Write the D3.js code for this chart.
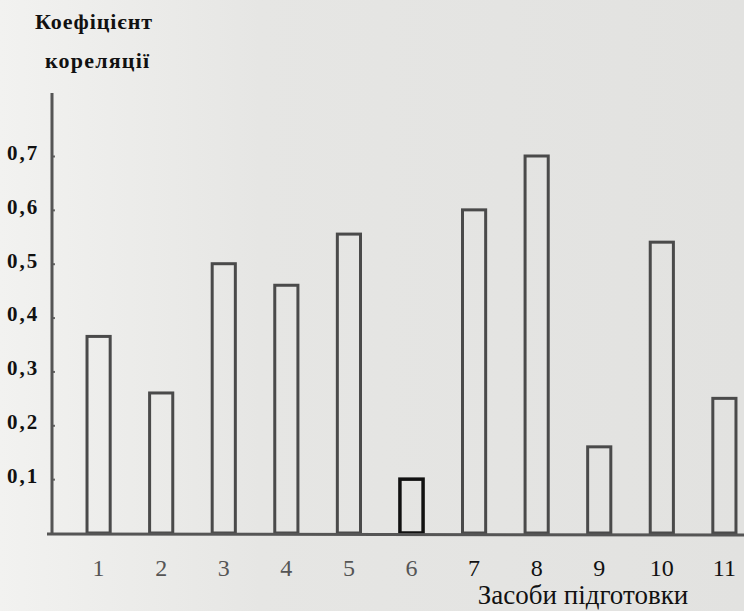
<!DOCTYPE html>
<html>
<head>
<meta charset="utf-8">
<script src="https://cdn.jsdelivr.net/npm/d3@7"></script>
<style>
  body { margin: 0; background: #e8e8e6; }
  svg { display: block; }
</style>
</head>
<body>
<div id="chart"></div>
<script>
const width = 744;
const height = 611;

// data
const categories = ['1', '2', '3', '4', '5', '6', '7', '8', '9', '10', '11'];
const values = [0.365, 0.26, 0.50, 0.46, 0.555, 0.10, 0.60, 0.70, 0.16, 0.54, 0.25];
const yTicks = [0.1, 0.2, 0.3, 0.4, 0.5, 0.6, 0.7];
const yTickLabels = ['0,1', '0,2', '0,3', '0,4', '0,5', '0,6', '0,7'];

const svg = d3.select('#chart')
  .append('svg')
  .attr('width', width)
  .attr('height', height);

// paper background
const grad = svg.append('defs').append('linearGradient')
  .attr('id', 'paper').attr('x1', 0).attr('x2', 1).attr('y1', 0).attr('y2', 0);
grad.append('stop').attr('offset', '0%').attr('stop-color', '#f2f2f0');
grad.append('stop').attr('offset', '35%').attr('stop-color', '#e6e6e4');
grad.append('stop').attr('offset', '100%').attr('stop-color', '#e2e2e0');
svg.append('rect').attr('width', width).attr('height', height).attr('fill', 'url(#paper)');

// scales
const x = d3.scaleBand()
  .domain(categories)
  .range([67, 756])
  .paddingInner(0.63)
  .paddingOuter(0.32);

const y = d3.scaleLinear()
  .domain([0, 0.7])
  .range([533, 156]);

// y axis
const yAxis = svg.append('g')
  .attr('transform', 'translate(52,0)')
  .call(d3.axisRight(y).tickValues(yTicks).tickSize(3).tickFormat(''));
yAxis.select('.domain').remove();
yAxis.selectAll('line').attr('stroke', '#666').attr('stroke-width', 2);

svg.append('line')
  .attr('x1', 52).attr('x2', 52)
  .attr('y1', 93).attr('y2', 535)
  .attr('stroke', '#555').attr('stroke-width', 3);

svg.selectAll('.ylab')
  .data(yTicks)
  .enter().append('text')
  .attr('x', 7)
  .attr('y', d => y(d) - 1)
  .attr('dominant-baseline', 'middle')
  .attr('font-family', 'Liberation Serif, serif')
  .attr('font-weight', 'bold')
  .attr('font-size', 21)
  .attr('letter-spacing', 2)
  .attr('fill', '#111')
  .text((d, i) => yTickLabels[i]);

// y title
svg.append('text')
  .attr('x', 35).attr('y', 29)
  .attr('font-family', 'Liberation Serif, serif')
  .attr('font-weight', 'bold')
  .attr('font-size', 22)
  .attr('letter-spacing', 0.9)
  .attr('fill', '#111')
  .text('Коефіцієнт');
svg.append('text')
  .attr('x', 45).attr('y', 68)
  .attr('font-family', 'Liberation Serif, serif')
  .attr('font-weight', 'bold')
  .attr('font-size', 22)
  .attr('letter-spacing', 1.2)
  .attr('fill', '#111')
  .text('кореляції');

// bars
svg.selectAll('.bar')
  .data(values)
  .enter().append('rect')
  .attr('x', (d, i) => x(categories[i]))
  .attr('y', d => y(d))
  .attr('width', x.bandwidth())
  .attr('height', d => y(0) - y(d))
  .attr('fill', 'none')
  .attr('stroke', (d, i) => i === 5 ? '#111' : '#4a4a4a')
  .attr('stroke-width', (d, i) => i === 5 ? 3.5 : 3);

// x axis
svg.append('line')
  .attr('x1', 47).attr('x2', width)
  .attr('y1', 534).attr('y2', 535)
  .attr('stroke', '#555').attr('stroke-width', 3);

svg.selectAll('.xlab')
  .data(categories)
  .enter().append('text')
  .attr('x', d => x(d) + x.bandwidth() / 2)
  .attr('y', 576)
  .attr('text-anchor', 'middle')
  .attr('font-family', 'Liberation Serif, serif')
  .attr('font-size', 24)
  .attr('fill', (d, i) => i < 6 ? '#555' : '#111')
  .text(d => d);

svg.append('text')
  .attr('x', 583).attr('y', 604)
  .attr('text-anchor', 'middle')
  .attr('font-family', 'Liberation Serif, serif')
  .attr('font-size', 27)
  .attr('fill', '#111')
  .text('Засоби підготовки');
</script>
</body>
</html>
